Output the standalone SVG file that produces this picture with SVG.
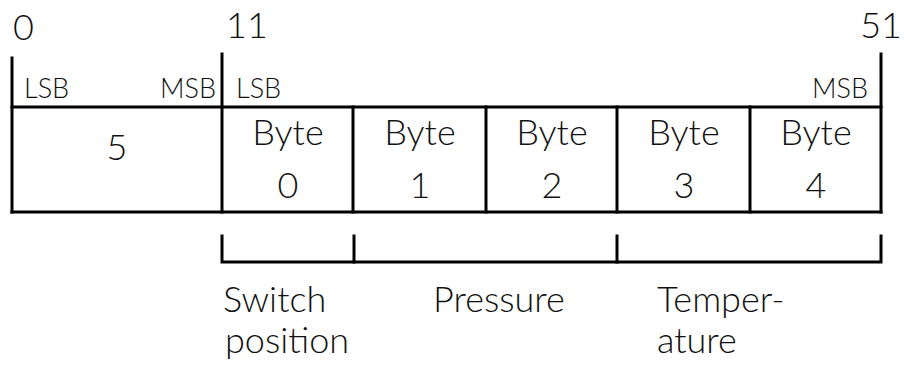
<svg xmlns="http://www.w3.org/2000/svg" width="904" height="365" viewBox="0 0 904 365">
<style>
.ln{stroke:#000;stroke-width:3;fill:none;stroke-linecap:square}
.t{font-family:Lato,"Open Sans","Liberation Sans",sans-serif;font-weight:300;fill:#111}
.big{font-size:36px}
.sm{font-size:27px}
.c{text-anchor:middle}
.e{text-anchor:end}
</style>
<rect width="904" height="365" fill="#fff"/>
<g id="scale">
<text class="t big" x="13" y="40">0</text>
<text class="t big" x="226" y="38">11</text>
<text class="t big e" x="902" y="38">51</text>
</g>
<g id="frame" class="ln">
<line x1="12" y1="58" x2="12" y2="212"/>
<line x1="222" y1="54" x2="222" y2="212"/>
<line x1="881" y1="54" x2="881" y2="212"/>
<line x1="12" y1="107" x2="881" y2="107"/>
<line x1="12" y1="212" x2="881" y2="212"/>
</g>
<g id="bitorder">
<text class="t sm" x="24" y="98">LSB</text>
<text class="t sm e" x="216" y="98">MSB</text>
<text class="t sm" x="236" y="98">LSB</text>
<text class="t sm e" x="868" y="98">MSB</text>
</g>
<g id="field-dlc">
<text class="t big c" x="117" y="160">5</text>
</g>
<g id="byte0">
<line class="ln" x1="353" y1="107" x2="353" y2="212"/>
<text class="t big c" x="288" y="145">Byte</text>
<text class="t big c" x="288" y="198">0</text>
</g>
<g id="byte1">
<line class="ln" x1="486" y1="107" x2="486" y2="212"/>
<text class="t big c" x="420" y="145">Byte</text>
<text class="t big c" x="420" y="198">1</text>
</g>
<g id="byte2">
<line class="ln" x1="617" y1="107" x2="617" y2="212"/>
<text class="t big c" x="552" y="145">Byte</text>
<text class="t big c" x="552" y="198">2</text>
</g>
<g id="byte3">
<line class="ln" x1="750" y1="107" x2="750" y2="212"/>
<text class="t big c" x="684" y="145">Byte</text>
<text class="t big c" x="684" y="198">3</text>
</g>
<g id="byte4">
<text class="t big c" x="816" y="145">Byte</text>
<text class="t big c" x="816" y="198">4</text>
</g>
<g id="connectors" class="ln">
<path d="M222 236 V262 H881 V236"/>
<line x1="354" y1="236" x2="354" y2="262"/>
<line x1="617" y1="236" x2="617" y2="262"/>
</g>
<g id="label-switch">
<text class="t big" x="223" y="312">Switch</text>
<text class="t big" x="225" y="353">position</text>
</g>
<g id="label-pressure">
<text class="t big" x="433" y="312">Pressure</text>
</g>
<g id="label-temperature">
<text class="t big" x="657" y="312">Temper-</text>
<text class="t big" x="657" y="353">ature</text>
</g>
</svg>
